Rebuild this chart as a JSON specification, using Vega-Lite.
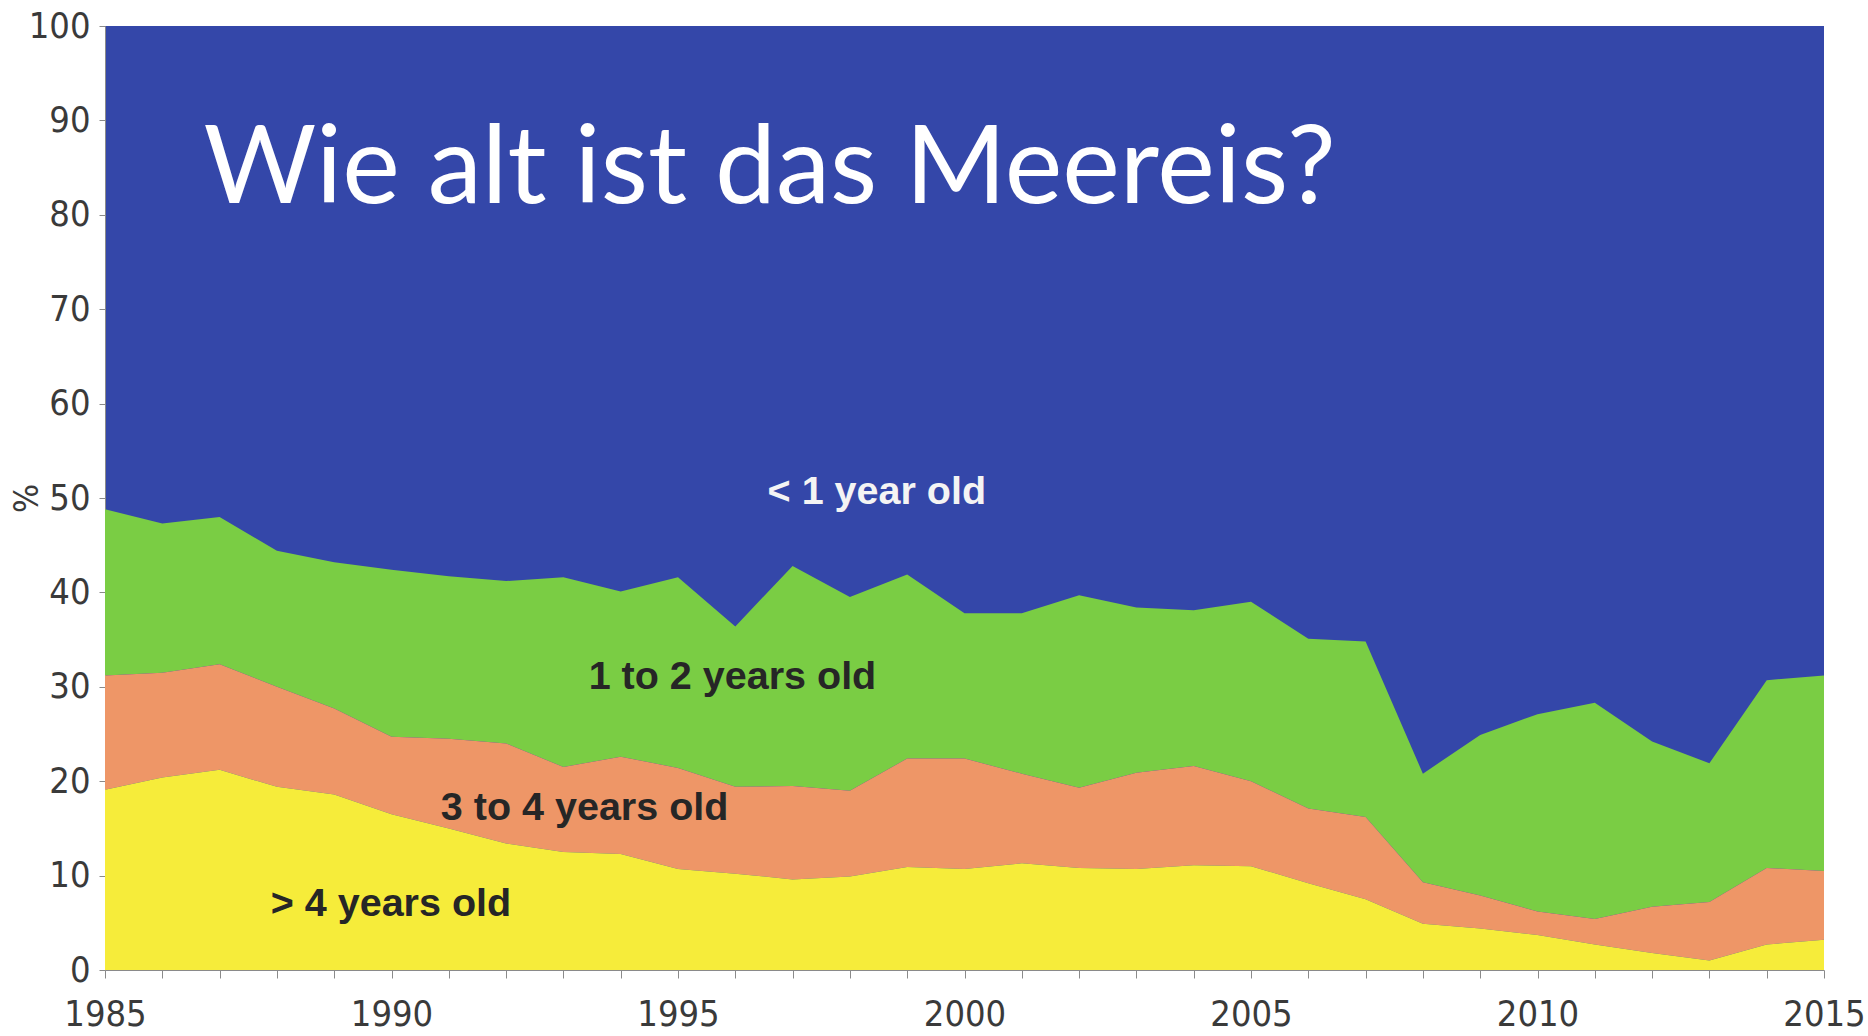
{
  "$schema": "https://vega.github.io/schema/vega-lite/v6.json",
  "width": 1719,
  "height": 944,
  "autosize": {"type": "none"},
  "padding": {"left": 105, "top": 26, "right": 44, "bottom": 66},
  "background": "white",
  "config": {
    "view": {"stroke": null, "fill": "#3447a9"},
    "axis": {
      "labelFont": "Liberation Sans Narrow, DejaVu Sans Condensed, Liberation Sans",
      "titleFont": "Liberation Sans Narrow, DejaVu Sans Condensed, Liberation Sans",
      "labelFontSize": 36,
      "labelColor": "#3a3a3a",
      "titleColor": "#3a3a3a",
      "domainColor": "#8a8a8a",
      "tickColor": "#8a8a8a",
      "grid": false
    }
  },
  "datasets": {
    "ice": [
      {"year": 1985, "y": 19.1, "o": 31.2, "g": 48.8},
      {"year": 1986, "y": 20.4, "o": 31.5, "g": 47.3},
      {"year": 1987, "y": 21.2, "o": 32.4, "g": 48.0},
      {"year": 1988, "y": 19.4, "o": 30.0, "g": 44.4},
      {"year": 1989, "y": 18.6, "o": 27.7, "g": 43.2},
      {"year": 1990, "y": 16.5, "o": 24.7, "g": 42.4},
      {"year": 1991, "y": 15.0, "o": 24.5, "g": 41.7},
      {"year": 1992, "y": 13.4, "o": 24.0, "g": 41.2},
      {"year": 1993, "y": 12.5, "o": 21.5, "g": 41.6},
      {"year": 1994, "y": 12.3, "o": 22.6, "g": 40.1},
      {"year": 1995, "y": 10.7, "o": 21.4, "g": 41.6},
      {"year": 1996, "y": 10.2, "o": 19.4, "g": 36.4},
      {"year": 1997, "y": 9.6, "o": 19.5, "g": 42.8},
      {"year": 1998, "y": 9.9, "o": 19.0, "g": 39.5},
      {"year": 1999, "y": 10.9, "o": 22.4, "g": 41.9},
      {"year": 2000, "y": 10.7, "o": 22.4, "g": 37.8},
      {"year": 2001, "y": 11.3, "o": 20.8, "g": 37.8},
      {"year": 2002, "y": 10.8, "o": 19.3, "g": 39.7},
      {"year": 2003, "y": 10.7, "o": 20.9, "g": 38.4},
      {"year": 2004, "y": 11.1, "o": 21.6, "g": 38.1},
      {"year": 2005, "y": 11.0, "o": 20.0, "g": 39.0},
      {"year": 2006, "y": 9.2, "o": 17.1, "g": 35.1},
      {"year": 2007, "y": 7.5, "o": 16.2, "g": 34.8},
      {"year": 2008, "y": 4.9, "o": 9.3, "g": 20.8},
      {"year": 2009, "y": 4.4, "o": 7.9, "g": 24.9},
      {"year": 2010, "y": 3.7, "o": 6.2, "g": 27.1},
      {"year": 2011, "y": 2.7, "o": 5.4, "g": 28.3},
      {"year": 2012, "y": 1.8, "o": 6.7, "g": 24.2},
      {"year": 2013, "y": 1.0, "o": 7.2, "g": 21.9},
      {"year": 2014, "y": 2.7, "o": 10.8, "g": 30.7},
      {"year": 2015, "y": 3.2, "o": 10.5, "g": 31.2}
    ],
    "labels": [
      {"t": "Wie alt ist das Meereis?", "k": "title"},
      {"t": "< 1 year old", "k": "blue"},
      {"t": "1 to 2 years old", "k": "green"},
      {"t": "3 to 4 years old", "k": "orange"},
      {"t": "> 4 years old", "k": "yellow"}
    ]
  },
  "layer": [
    {
      "data": {"name": "ice"},
      "mark": {"type": "area", "color": "#7acd44"},
      "encoding": {
        "x": {
          "field": "year",
          "type": "quantitative",
          "scale": {"domain": [1985, 2015], "nice": false, "zero": false},
          "axis": {
            "values": [1985,1986,1987,1988,1989,1990,1991,1992,1993,1994,1995,1996,1997,1998,1999,2000,2001,2002,2003,2004,2005,2006,2007,2008,2009,2010,2011,2012,2013,2014,2015],
            "format": "d",
            "labelExpr": "datum.value % 5 === 0 ? datum.label : ''",
            "labelFlush": false,
            "labelOverlap": false,
            "tickSize": 8,
            "labelPadding": 19,
            "title": null
          }
        },
        "y": {
          "field": "o",
          "type": "quantitative",
          "scale": {"domain": [0, 100], "nice": false},
          "axis": {
            "values": [0,10,20,30,40,50,60,70,80,90,100],
            "tickSize": 6,
            "labelPadding": 9,
            "title": "%",
            "titleFontSize": 34,
            "titleFontWeight": "normal",
            "titlePadding": -16
          }
        },
        "y2": {"field": "g"}
      }
    },
    {
      "data": {"name": "ice"},
      "mark": {"type": "area", "color": "#ee9667"},
      "encoding": {
        "x": {"field": "year", "type": "quantitative"},
        "y": {"field": "y", "type": "quantitative"},
        "y2": {"field": "o"}
      }
    },
    {
      "data": {"name": "ice"},
      "mark": {"type": "area", "color": "#f6ec3a"},
      "encoding": {
        "x": {"field": "year", "type": "quantitative"},
        "y": {"field": "y", "type": "quantitative", "stack": null}
      }
    },
    {
      "data": {"name": "labels"},
      "transform": [{"filter": "datum.k === 'title'"}],
      "mark": {"type": "text", "color": "white", "font": "Lato", "fontSize": 109, "fontWeight": 400, "align": "left", "baseline": "alphabetic"},
      "encoding": {
        "x": {"datum": 1986.72, "type": "quantitative"},
        "y": {"datum": 81.3, "type": "quantitative"},
        "text": {"field": "t"}
      }
    },
    {
      "data": {"name": "labels"},
      "transform": [{"filter": "datum.k === 'blue'"}],
      "mark": {"type": "text", "color": "#f4f4f4", "font": "Liberation Sans", "fontSize": 39.5, "fontWeight": "bold", "align": "center", "baseline": "middle"},
      "encoding": {"x": {"datum": 1998.47, "type": "quantitative"}, "y": {"datum": 50.6, "type": "quantitative"}, "text": {"field": "t"}}
    },
    {
      "data": {"name": "labels"},
      "transform": [{"filter": "datum.k === 'green'"}],
      "mark": {"type": "text", "color": "#262626", "font": "Liberation Sans", "fontSize": 39.5, "fontWeight": "bold", "align": "center", "baseline": "middle"},
      "encoding": {"x": {"datum": 1995.95, "type": "quantitative"}, "y": {"datum": 31.0, "type": "quantitative"}, "text": {"field": "t"}}
    },
    {
      "data": {"name": "labels"},
      "transform": [{"filter": "datum.k === 'orange'"}],
      "mark": {"type": "text", "color": "#262626", "font": "Liberation Sans", "fontSize": 39.5, "fontWeight": "bold", "align": "center", "baseline": "middle"},
      "encoding": {"x": {"datum": 1993.37, "type": "quantitative"}, "y": {"datum": 17.2, "type": "quantitative"}, "text": {"field": "t"}}
    },
    {
      "data": {"name": "labels"},
      "transform": [{"filter": "datum.k === 'yellow'"}],
      "mark": {"type": "text", "color": "#262626", "font": "Liberation Sans", "fontSize": 39.5, "fontWeight": "bold", "align": "center", "baseline": "middle"},
      "encoding": {"x": {"datum": 1989.99, "type": "quantitative"}, "y": {"datum": 7.0, "type": "quantitative"}, "text": {"field": "t"}}
    }
  ]
}
